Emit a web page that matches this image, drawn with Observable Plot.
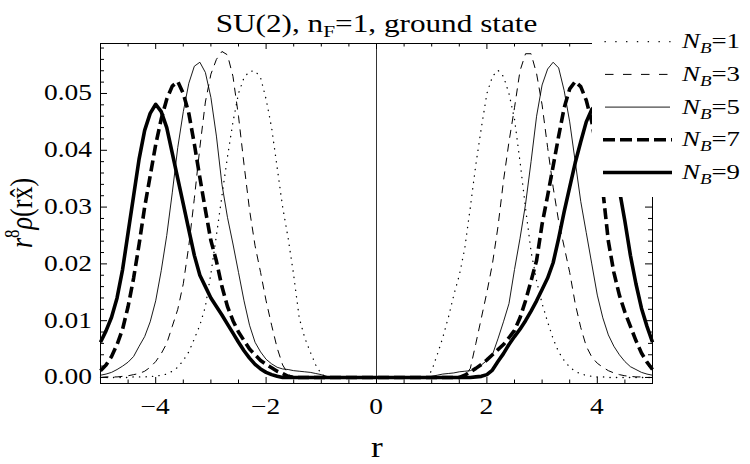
<!DOCTYPE html>
<html><head><meta charset="utf-8">
<script src="https://cdn.jsdelivr.net/npm/d3@7"></script>
<script src="https://cdn.jsdelivr.net/npm/@observablehq/plot@0.6"></script>
<style>
body{margin:0;background:#fff}
#chart{width:750px;height:464px;position:relative}
</style>
</head><body><div id="chart"></div>
<script>
// r sample grid
const rGrid = [
 -5.0,-4.9,-4.8,-4.7,-4.6,-4.5,-4.4,-4.3,-4.2,-4.1,
 -4.0,-3.9,-3.8,-3.7,-3.6,-3.5,-3.4,-3.3,-3.2,-3.1,
 -3.0,-2.9,-2.8,-2.7,-2.6,-2.5,-2.4,-2.3,-2.2,-2.1,
 -2.0,-1.9,-1.8,-1.7,-1.6,-1.5,-1.4,-1.3,-1.2,-1.1,
 -1.0,-0.9,-0.8,-0.7,-0.6,-0.5,-0.4,-0.3,-0.2,-0.1,
  0.0, 0.1, 0.2, 0.3, 0.4, 0.5, 0.6, 0.7, 0.8, 0.9,
  1.0, 1.1, 1.2, 1.3, 1.4, 1.5, 1.6, 1.7, 1.8, 1.9,
  2.0, 2.1, 2.2, 2.3, 2.4, 2.5, 2.6, 2.7, 2.8, 2.9,
  3.0, 3.1, 3.2, 3.3, 3.4, 3.5, 3.6, 3.7, 3.8, 3.9,
  4.0, 4.1, 4.2, 4.3, 4.4, 4.5, 4.6, 4.7, 4.8, 4.9,
  5.0];

// r^8 rho(r x) for each N_B
const nb1 = [
 0,0,0,0,0,0,0.0001,0.0001,0.0001,0.0002,
 0.0002,0.0004,0.0006,0.0011,0.0018,0.0030,0.0045,0.0068,0.0092,0.0125,
 0.0183,0.0250,0.0320,0.0388,0.0450,0.0500,0.0528,0.0539,0.0540,0.0528,
 0.0490,0.0440,0.0370,0.0300,0.0245,0.0180,0.0105,0.0070,0.0045,0.0022,
 0.0006,0,0,0,0,0,0,0,0,0,
 0,0,0,0,0,0,0,0,0,0,
 0.0012,0.0040,0.0070,0.0105,0.0145,0.0180,0.0228,0.0300,0.0375,0.0440,
 0.0500,0.0530,0.0541,0.0530,0.0500,0.0455,0.0380,0.0298,0.0222,0.0170,
 0.0130,0.0098,0.0068,0.0045,0.0030,0.0018,0.0011,0.0006,0.0004,0.0002,
 0.0001,0.0001,0,0,0,0,0,0,0,0,
 0];
const nb3 = [
 0,0.0001,0.0001,0.0001,0.0002,0.0003,0.0005,0.0007,0.0011,0.0018,
 0.0028,0.0042,0.0060,0.0090,0.0120,0.0165,0.0232,0.0315,0.0405,0.0485,
 0.0534,0.0560,0.0574,0.0568,0.0530,0.0460,0.0375,0.0295,0.0232,0.0185,
 0.0135,0.0092,0.0052,0.0022,0.0006,0,0,0,0,0,
 0,0,0,0,0,0,0,0,0,0,
 0,0,0,0,0,0,0,0,0,0,
 0,0,0,0,0,0,0.0002,0.0016,0.0060,0.0105,
 0.0150,0.0200,0.0265,0.0346,0.0415,0.0475,0.0540,0.0570,0.0570,0.0535,
 0.0480,0.0405,0.0335,0.0275,0.0230,0.0185,0.0130,0.0088,0.0055,0.0036,
 0.0025,0.0018,0.0012,0.0008,0.0005,0.0003,0.0002,0.0001,0.0001,0,
 0];
const nb5 = [
 0.0004,0.0006,0.0009,0.0014,0.0020,0.0027,0.0037,0.0055,0.0072,0.0098,
 0.0135,0.0188,0.0250,0.0325,0.0405,0.0468,0.0518,0.0548,0.0555,0.0537,
 0.0493,0.0425,0.0340,0.0282,0.0235,0.0185,0.0135,0.0092,0.0062,0.0045,
 0.0032,0.0024,0.0018,0.0015,0.0014,0.0012,0.0011,0.0010,0.0009,0.0007,
 0.0005,0.0002,0,0,0,0,0,0,0,0,
 0,0,0,0,0,0,0,0,0,0,
 0.0002,0.0004,0.0006,0.0007,0.0008,0.0010,0.0011,0.0012,0.0016,0.0022,
 0.0030,0.0040,0.0068,0.0098,0.0130,0.0190,0.0245,0.0305,0.0380,0.0460,
 0.0515,0.0543,0.0555,0.0545,0.0505,0.0450,0.0380,0.0310,0.0255,0.0200,
 0.0145,0.0105,0.0075,0.0055,0.0040,0.0028,0.0019,0.0014,0.0009,0.0006,
 0.0004];
const nb7 = [
 0.0012,0.0022,0.0037,0.0058,0.0085,0.0125,0.0175,0.0235,0.0300,0.0355,
 0.0410,0.0455,0.0490,0.0513,0.0521,0.0500,0.0465,0.0411,0.0352,0.0295,
 0.0241,0.0205,0.0160,0.0125,0.0100,0.0080,0.0065,0.0050,0.0040,0.0030,
 0.0023,0.0017,0.0011,0.0007,0.0002,0,0,0,0,0,
 0,0,0,0,0,0,0,0,0,0,
 0,0,0,0,0,0,0,0,0,0,
 0,0,0,0,0,0,0.0004,0.0010,0.0016,0.0023,
 0.0031,0.0040,0.0049,0.0058,0.0070,0.0083,0.0105,0.0135,0.0170,0.0206,
 0.0270,0.0320,0.0372,0.0425,0.0475,0.0508,0.0521,0.0512,0.0488,0.0450,
 0.0395,0.0330,0.0240,0.0185,0.0145,0.0115,0.0090,0.0065,0.0043,0.0027,
 0.0014];
const nb9 = [
 0.0062,0.0082,0.0106,0.0140,0.0190,0.0255,0.0320,0.0385,0.0435,0.0465,
 0.0481,0.0468,0.0440,0.0395,0.0350,0.0305,0.0260,0.0215,0.0180,0.0160,
 0.0140,0.0125,0.0110,0.0094,0.0078,0.0062,0.0047,0.0034,0.0023,0.0015,
 0.0009,0.0005,0.0002,0,0,0,0,0,0,0,
 0,0,0,0,0,0,0,0,0,0,
 0,0,0,0,0,0,0,0,0,0,
 0,0,0,0,0,0,0,0,0.0001,0.0002,
 0.0005,0.0013,0.0028,0.0042,0.0058,0.0072,0.0085,0.0100,0.0117,0.0135,
 0.0155,0.0175,0.0202,0.0245,0.0292,0.0335,0.0378,0.0415,0.0450,0.0472,
 0.0481,0.0470,0.0440,0.0390,0.0330,0.0275,0.0215,0.0165,0.0122,0.0090,
 0.0062];

const legendValues = ["1","3","5","7","9"];
const xMajor = [-4,-2,0,2,4];
const xMinor = [-4.5,-3.5,-3,-2.5,-1.5,-1,-0.5,0.5,1,1.5,2.5,3,3.5,4.5];
const yMajor = [0,0.01,0.02,0.03,0.04,0.05];
const yMinor = [0.002,0.004,0.006,0.008,0.012,0.014,0.016,0.018,0.022,0.024,0.026,0.028,
                0.032,0.034,0.036,0.038,0.042,0.044,0.046,0.048,0.052,0.054,0.056,0.058];

const W = 750, H = 464, mL = 100, mR = 98, mT = 43, mB = 81;
const iW = W - mL - mR, iH = H - mT - mB;
const SX = 1.22; // horizontal glyph stretch of the reference

const styles = [
  {strokeWidth:1.3, strokeDasharray:"0.3,6.2", strokeLinecap:"round", legendDash:"0.3,10.5"},
  {strokeWidth:1, strokeDasharray:"8,6", strokeLinecap:"butt", legendDash:"8.5,9.5"},
  {strokeWidth:0.9, strokeDasharray:null, strokeLinecap:"butt", legendDash:null},
  {strokeWidth:3.6, strokeDasharray:"11,5", strokeLinecap:"butt", legendDash:"12,5"},
  {strokeWidth:3.6, strokeDasharray:null, strokeLinecap:"butt", legendDash:null}
];
const allSeries = [nb1, nb3, nb5, nb7, nb9];
const rows = ys => rGrid.map((r, i) => ({r, v: ys[i]}));

const lineMarks = allSeries.map((ys, k) => Plot.line(rows(ys), {
  x: "r", y: "v", stroke: "black",
  strokeWidth: styles[k].strokeWidth,
  strokeDasharray: styles[k].strokeDasharray,
  strokeLinecap: styles[k].strokeLinecap,
  strokeLinejoin: "round"
}));

const fmtX = d => d < 0 ? "\u2212" + (-d) : String(d);
const fmtY = d => d.toFixed(2);

const svg = Plot.plot({
  width: W, height: H,
  marginLeft: mL, marginRight: mR, marginTop: mT, marginBottom: mB,
  style: {fontFamily: "'Liberation Serif', 'Times New Roman', serif", background: "white", color: "black", overflow: "visible"},
  x: {domain: [-5, 5], axis: null},
  y: {domain: [-0.00106, 0.0588], axis: null},
  marks: [
    Plot.ruleX([0], {stroke: "black", strokeWidth: 0.8}),
    ...lineMarks,
    Plot.frame({stroke: "black", strokeWidth: 1}),
    Plot.tickX(xMajor, {x: d => d, insetTop: iH - 6, stroke: "black"}),
    Plot.tickX(xMinor, {x: d => d, insetTop: iH - 3.5, stroke: "black"}),
    Plot.tickX(xMajor, {x: d => d, insetBottom: iH - 6, stroke: "black"}),
    Plot.tickX(xMinor, {x: d => d, insetBottom: iH - 3.5, stroke: "black"}),
    Plot.tickY(yMajor, {y: d => d, insetRight: iW - 7, stroke: "black"}),
    Plot.tickY(yMinor, {y: d => d, insetRight: iW - 4, stroke: "black"}),
    Plot.tickY(yMajor, {y: d => d, insetLeft: iW - 7, stroke: "black"}),
    Plot.tickY(yMinor, {y: d => d, insetLeft: iW - 4, stroke: "black"})
  ]
});

document.getElementById("chart").appendChild(svg);
const s = d3.select(svg);
const FONT = "'Liberation Serif', 'Times New Roman', serif";
const xs = svg.scale("x"), ys = svg.scale("y");

const txt = (parent, tx, ty, anchor, size) => parent.append("text")
  .attr("transform", `translate(${tx},${ty}) scale(${SX},1)`)
  .attr("text-anchor", anchor).attr("font-family", FONT)
  .attr("font-size", size).attr("fill", "black");

// tick labels
const tl = s.append("g");
xMajor.forEach(v => txt(tl, xs.apply(v), 414, "middle", 22.5).text(fmtX(v)));
yMajor.forEach(v => txt(tl, 92, ys.apply(v) + 7.5, "end", 22.5).text(fmtY(v)));

// Title
const t = txt(s, 376.5, 31.5, "middle", 25.6);
t.append("tspan").text("SU(2), n");
t.append("tspan").attr("font-size", 17.5).attr("dy", 5).text("F");
t.append("tspan").attr("dy", -5).text("=1, ground state");

// y label
const yl = s.append("text").attr("transform", `translate(32,213) rotate(-90) scale(1,${SX})`)
  .attr("text-anchor", "middle")
  .attr("font-family", FONT).attr("font-size", 26).attr("fill", "black");
yl.append("tspan").attr("font-style", "italic").text("r");
yl.append("tspan").attr("font-size", 17).attr("dy", -11).text("8");
yl.append("tspan").attr("dy", 11).attr("font-style", "italic").text("\u03C1");
yl.append("tspan").text("(rx\u0302)");

// x label
txt(s, 377, 456.5, "middle", 29).text("r");

// Legend
const lg = s.append("g");
lg.append("rect").attr("x", 592).attr("y", 24).attr("width", 160).attr("height", 173).attr("fill", "white");
const ly0 = 41.7, ldy = 32.7;
legendValues.forEach((v, k) => {
  const y = ly0 + k * ldy;
  const st = styles[k];
  lg.append("line").attr("x1", st.strokeWidth > 2 ? 603 : 605).attr("x2", st.strokeWidth > 2 ? 672 : 670)
    .attr("y1", y).attr("y2", y).attr("stroke", "black")
    .attr("stroke-width", st.strokeWidth)
    .attr("stroke-dasharray", st.legendDash)
    .attr("stroke-linecap", st.strokeLinecap);
  const tx = txt(lg, 682, y + 6.5, "start", 22);
  tx.append("tspan").attr("font-style", "italic").text("N");
  tx.append("tspan").attr("font-style", "italic").attr("font-size", 15.5).attr("dy", 5).text("B");
  tx.append("tspan").attr("dy", -5).text("=" + v);
});
</script>
</body></html>
